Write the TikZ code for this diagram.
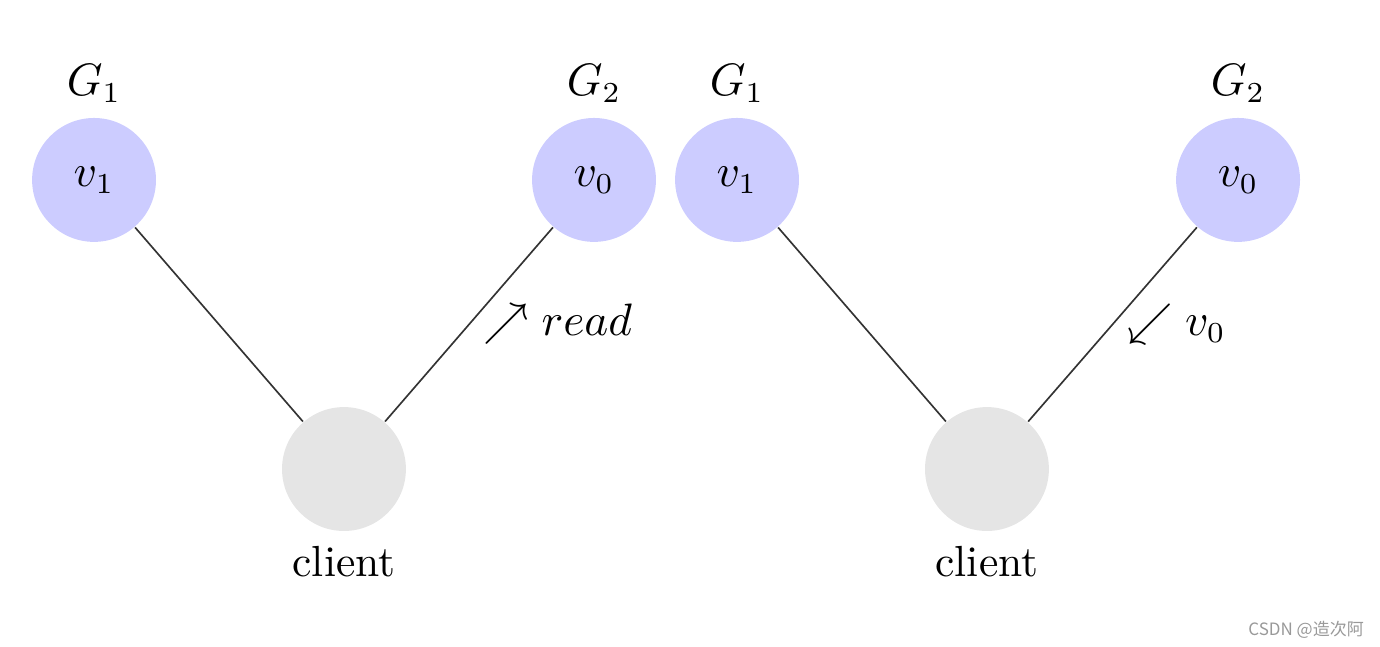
\documentclass[tikz,border=0pt]{standalone}
\usepackage{fontspec}
\newfontfamily\cjkfont{Noto Sans CJK SC}
\usetikzlibrary{positioning}
\begin{document}
\begin{tikzpicture}[
    font=\fontsize{10.5}{12.6}\selectfont,
    replica/.style={circle, fill=blue!20, minimum size=10.5mm, inner sep=0pt},
    client/.style={circle, fill=black!10, minimum size=10.5mm, inner sep=0pt},
    link/.style={thin, black!80}
]
\useasboundingbox (0,0) rectangle (11.695,5.483);
% left: client reads from G2
\node[replica, label=above:$G_1$] (g1a) at (0.797,3.958) {$v_1$};
\node[replica, label=above:$G_2$] (g2a) at (5.034,3.958) {$v_0$};
\node[client, label=below:client] (cla) at (2.915,1.508) {};
\draw[link] (g1a) -- (cla);
\draw[link] (cla) -- node[right, black] {$\nearrow read$} (g2a);
% right: G2 answers with v0
\node[replica, label=above:$G_1$] (g1b) at (6.246,3.958) {$v_1$};
\node[replica, label=above:$G_2$] (g2b) at (10.492,3.958) {$v_0$};
\node[client, label=below:client] (clb) at (8.364,1.508) {};
\draw[link] (g1b) -- (clb);
\draw[link] (clb) -- node[right, black] {$\swarrow v_0$} (g2b);
\node[black!40, font=\cjkfont\fontsize{4.1}{5}\selectfont, anchor=east, inner sep=0pt]
    (mark) at (11.565,0.145) {CSDN @造次阿};
\end{tikzpicture}
\end{document}
